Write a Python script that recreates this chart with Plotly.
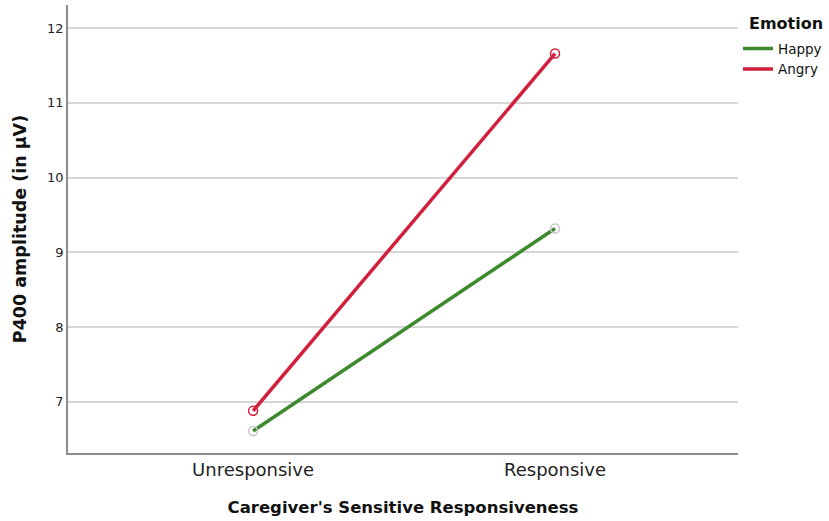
import plotly.graph_objects as go

categories = ["Unresponsive", "Responsive"]
happy = [6.61, 9.32]
angry = [6.88, 11.66]

FONT = "DejaVu Sans"
GREEN = "#3d8a2e"
RED = "#d21f3c"
fig = go.Figure()
fig.add_trace(go.Scatter(
    x=categories, y=happy, name="Happy", mode="lines+markers", showlegend=False,
    line=dict(color=GREEN, width=3.5),
    marker=dict(symbol="circle-open", size=9, color="#c8c8c8", line=dict(width=1.5, color="#c8c8c8")),
))
fig.add_trace(go.Scatter(
    x=categories, y=angry, name="Angry", mode="lines+markers", showlegend=False,
    line=dict(color=RED, width=3.5),
    marker=dict(symbol="circle-open", size=9, color=RED, line=dict(width=1.5, color=RED)),
))
# legend-only entries (lines without markers)
fig.add_trace(go.Scatter(x=[None], y=[None], name="Happy", mode="lines", line=dict(color=GREEN, width=3.5)))
fig.add_trace(go.Scatter(x=[None], y=[None], name="Angry", mode="lines", line=dict(color=RED, width=3.5)))

fig.add_annotation(
    text="<b>Emotion</b>", xref="paper", yref="paper", x=1.013, y=0.985,
    xanchor="left", yanchor="top", showarrow=False,
    font=dict(size=16, family=FONT, color="#111"),
)

fig.update_layout(
    width=829, height=521,
    margin=dict(l=68, r=91, t=5, b=68, autoexpand=False),
    plot_bgcolor="white", paper_bgcolor="white",
    font=dict(family=FONT, color="#222222"),
    legend=dict(
        x=1.0, y=0.937, xanchor="left", yanchor="top",
        font=dict(size=13.5, family=FONT, color="#111"),
        tracegroupgap=0, itemwidth=30,
    ),
    xaxis=dict(
        type="category", range=[-0.613, 1.606], automargin=False,
        showline=True, linecolor="#8c8c8c", linewidth=1.5,
        showgrid=False, ticks="", tickfont=dict(size=18, family=FONT, color="#222"),
        title=dict(text="<b>Caregiver's Sensitive Responsiveness</b>", font=dict(size=16.5, family=FONT, color="#111"), standoff=22),
    ),
    yaxis=dict(
        range=[6.316, 12.31], tickvals=[7, 8, 9, 10, 11, 12], automargin=False,
        showline=True, linecolor="#8c8c8c", linewidth=1.5,
        showgrid=True, gridcolor="#d6d6d6", gridwidth=1.5, zeroline=False,
        ticks="", tickfont=dict(size=13, family=FONT, color="#222"),
        title=dict(text="<b>P400 amplitude (in µV)</b>", font=dict(size=17.5, family=FONT, color="#111"), standoff=16),
    ),
)
fig.write_html("out.html", config={"displayModeBar": False},
               post_script="document.body.style.margin='0';")
